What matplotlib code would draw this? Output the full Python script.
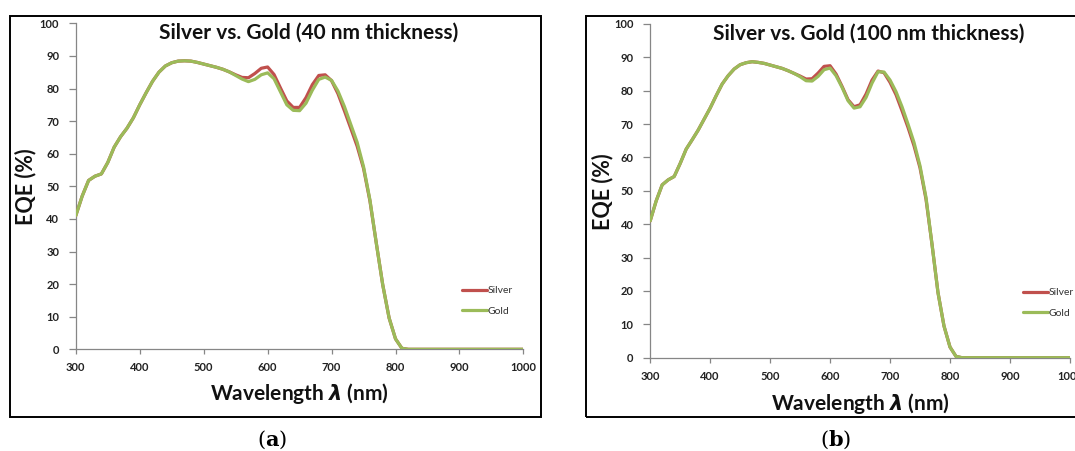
import matplotlib
matplotlib.use("Agg")
import matplotlib.pyplot as plt
from matplotlib.patches import Rectangle

plt.rcParams['font.family'] = ['Lato', 'DejaVu Sans']
plt.rcParams['mathtext.fontset'] = 'custom'
plt.rcParams['mathtext.it'] = 'DejaVu Sans:italic:bold'
plt.rcParams['mathtext.rm'] = 'DejaVu Serif'
plt.rcParams['mathtext.bf'] = 'DejaVu Serif:bold'

wavelength = [300, 310, 320, 330, 340, 350, 360, 370, 380, 390,
              400, 410, 420, 430, 440, 450, 460, 470, 480, 490,
              500, 510, 520, 530, 540, 550, 560, 570, 580, 590,
              600, 610, 620, 630, 640, 650, 660, 670, 680, 690,
              700, 710, 720, 730, 740, 750, 760, 770, 780, 790,
              800, 810, 820, 830, 840, 850, 860, 870, 880, 890,
              900, 910, 920, 930, 940, 950, 960, 970, 980, 990, 1000]

silver_40 = [41, 47, 51.8, 53.1, 53.8, 57.3, 62.0, 65.2, 67.8, 71,
             75, 78.7, 82.2, 85, 86.9, 87.9, 88.4, 88.5, 88.4, 88,
             87.5, 87, 86.5, 85.9, 85.1, 84.2, 83.4, 83.3, 84.6, 86.2,
             86.6, 84.3, 80.2, 76.2, 74.2, 74.2, 77.2, 81.2, 84, 84.2,
             82.4, 78.4, 73.2, 67.8, 62.3, 55.5, 45.5, 32.5, 19.8, 9.6,
             3.2, 0.3, 0, 0, 0, 0, 0, 0, 0, 0,
             0, 0, 0, 0, 0, 0, 0, 0, 0, 0, 0]

gold_40 = [41, 47, 51.8, 53.1, 53.8, 57.3, 62.0, 65.2, 67.8, 71,
           75, 78.7, 82.2, 85, 86.9, 87.9, 88.4, 88.5, 88.4, 88,
           87.5, 87, 86.5, 85.9, 85.1, 84, 82.9, 82.1, 82.8, 84.2,
           84.8, 83, 79, 75, 73.3, 73.2, 75.5, 79.5, 82.8, 83.5,
           82.5, 79.2, 74.5, 69, 63.5, 56, 45.8, 32.5, 19.8, 9.6,
           3.2, 0.3, 0, 0, 0, 0, 0, 0, 0, 0,
           0, 0, 0, 0, 0, 0, 0, 0, 0, 0, 0]

silver_100 = [41, 47, 51.8, 53.3, 54.3, 58.2, 62.5, 65.3, 68.2, 71.5,
              74.8, 78.5, 82, 84.5, 86.5, 87.8, 88.4, 88.7, 88.5, 88.2,
              87.7, 87.2, 86.7, 86, 85.2, 84.4, 83.5, 83.6, 85.3, 87.3,
              87.5, 85, 81.3, 77.3, 75.2, 75.8, 79, 83.2, 85.9, 85.4,
              82.5, 78.8, 74, 69, 63.5, 56.9, 47.5, 34, 19.5, 9.5,
              3.2, 0.4, 0, 0, 0, 0, 0, 0, 0, 0,
              0, 0, 0, 0, 0, 0, 0, 0, 0, 0, 0]

gold_100 = [41, 47, 51.8, 53.3, 54.3, 58.2, 62.5, 65.3, 68.2, 71.5,
            74.8, 78.5, 82, 84.5, 86.5, 87.8, 88.4, 88.7, 88.5, 88.2,
            87.7, 87.2, 86.7, 86, 85.2, 84.2, 83, 82.9, 84.3, 86.3,
            86.8, 84.5, 81, 77, 74.8, 75.2, 78, 82.3, 85.7, 85.6,
            83.2, 79.7, 75.2, 70, 64.5, 57.5, 48, 34, 19.5, 9.5,
            3.2, 0.4, 0, 0, 0, 0, 0, 0, 0, 0,
            0, 0, 0, 0, 0, 0, 0, 0, 0, 0, 0]

x_ticks = [300, 400, 500, 600, 700, 800, 900, 1000]
y_ticks = [0, 10, 20, 30, 40, 50, 60, 70, 80, 90, 100]
titles = ["Silver vs. Gold (40 nm thickness)", "Silver vs. Gold (100 nm thickness)"]
captions = [r"$\mathrm{(}\mathbf{a}\mathrm{)}$", r"$\mathrm{(}\mathbf{b}\mathrm{)}$"]

SILVER = '#C0504D'
GOLD = '#9BBB59'
AXC = '#868686'

W, H = 1075, 451
fig = plt.figure(figsize=(W / 100, H / 100), dpi=100)

def fx(px):
    return px / W

def fy(py):
    return 1 - py / H

# panel frames (pixel boxes)
frames = [(9.5, 15.5, 540.5, 417), (585.5, 15.5, 1200, 417)]
for (x0, y0, x1, y1) in frames:
    fig.patches.append(Rectangle((fx(x0), fy(y1)), fx(x1 - x0), (y1 - y0) / H,
                                 transform=fig.transFigure, fill=False,
                                 edgecolor='black', linewidth=1.4, zorder=0))

axes_px = [(75.8, 23.3, 523.4, 349.3), (650.2, 24.0, 1069.9, 357.7)]
data = [(silver_40, gold_40), (silver_100, gold_100)]
ylab_x = [26, 603]
ylab_y = [187, 192]
xlab_xy = [(299.5, 393), (860.5, 403)]
title_xy = [(309, 33), (868.5, 34)]
legend_anchor = [(0.862, 0.148), (0.888, 0.164)]
cap_x = [272, 836]

for i in range(2):
    x0, y0, x1, y1 = axes_px[i]
    ax = fig.add_axes([fx(x0), fy(y1), (x1 - x0) / W, (y1 - y0) / H])
    s, g = data[i]
    ax.plot(wavelength, s, color=SILVER, lw=2.3, label='Silver',
            solid_capstyle='round', solid_joinstyle='round', zorder=3)
    ax.plot(wavelength, g, color=GOLD, lw=2.3, label='Gold',
            solid_capstyle='round', solid_joinstyle='round', zorder=4)
    ax.set_xlim(300, 1000)
    ax.set_ylim(0, 100)
    ax.set_xticks(x_ticks)
    ax.set_yticks(y_ticks)
    for sp in ['top', 'right']:
        ax.spines[sp].set_visible(False)
    for sp in ['left', 'bottom']:
        ax.spines[sp].set_color(AXC)
        ax.spines[sp].set_linewidth(0.9)
    ax.tick_params(axis='y', direction='out', length=5, width=0.9, color=AXC,
                   labelsize=8, pad=7, labelcolor='#222222')
    ax.tick_params(axis='x', direction='out', length=3.5, width=0.9, color=AXC,
                   labelsize=8, pad=6, labelcolor='#222222')
    for lbl in ax.get_xticklabels() + ax.get_yticklabels():
        lbl.set_fontweight('bold')
    ax.patch.set_alpha(0)
    leg = ax.legend(loc='center left', bbox_to_anchor=legend_anchor[i], frameon=False,
                    fontsize=7.5, handlelength=2.4, handletextpad=0.05,
                    labelspacing=1.1, borderpad=0, borderaxespad=0)
    for t in leg.get_texts():
        t.set_color('#333333')

    fig.text(fx(title_xy[i][0]), fy(title_xy[i][1]), titles[i], ha='center', va='center',
             fontsize=15, fontweight='bold', color='#111111')
    fig.text(fx(ylab_x[i]), fy(ylab_y[i]), 'EQE (%)', ha='center', va='center',
             rotation=90, fontsize=15.5, fontweight='bold', color='#111111')
    fig.text(fx(xlab_xy[i][0]), fy(xlab_xy[i][1]), r'Wavelength $\it{\lambda}$ (nm)',
             ha='center', va='center', fontsize=15, fontweight='bold', color='#111111')
    fig.text(fx(cap_x[i]), fy(440), captions[i], ha='center', va='center', fontsize=15,
             color='black')

fig.savefig('out.png', dpi=100)
